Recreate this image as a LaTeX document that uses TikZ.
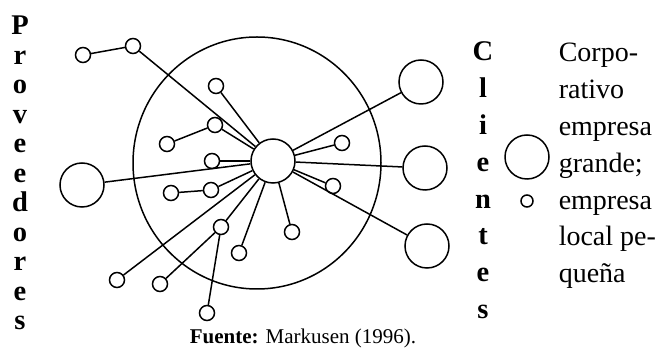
\documentclass[tikz,border=0pt]{standalone}
\usepackage{fontspec}
\setmainfont{Liberation Serif}

\begin{document}
\begin{tikzpicture}[x=1pt,y=-1pt,line width=1.5pt,
	chica/.style={draw,circle,inner sep=0pt,minimum size=15pt},
	grande/.style={draw,circle,inner sep=0pt,minimum size=44pt},
	letra/.style={font=\fontsize{28.5}{30}\selectfont\bfseries,anchor=base,inner sep=0pt}]
	\useasboundingbox (0,0) rectangle (662,352);
	\draw (257,163) ellipse [x radius=124,y radius=126];
	\path
	(273,161) node[grande] (H) {}
	(83,55) node[chica] (A) {}
	(133,46) node[chica] (B) {}
	(216,86) node[chica] (C) {}
	(215,125) node[chica] (D) {}
	(167,144) node[chica] (E) {}
	(212,161) node[chica] (F) {}
	(211,190) node[chica] (G) {}
	(171,193) node[chica] (I) {}
	(221,227) node[chica] (J) {}
	(160,284) node[chica] (K) {}
	(207,313) node[chica] (M) {}
	(117,280) node[chica] (N) {}
	(239,253) node[chica] (P) {}
	(292,232) node[chica] (Q) {}
	(342,143) node[chica] (R) {}
	(333,186) node[chica] (S) {}
	(82,185) node[grande] (L) {}
	(421,82) node[grande] (T) {}
	(425,168) node[grande] (U) {}
	(427,246) node[grande] (V) {}
	;
	\foreach \x/\y in {A/B,B/H,C/H,D/H,E/D,F/H,G/H,I/G,J/H,K/J,M/J,N/H,P/H,Q/H,R/H,S/H,L/H,T/H,U/H,V/H} \draw (\x) -- (\y);
	% columnas de letras
	\foreach \l [count=\i] in {P,r,o,v,e,e,d,o,r,e,s} \node[letra] (p\i) at (20,{35+29.5*(\i-1)}) {\l};
	\foreach \l [count=\i] in {C,l,i,e,n,t,e,s} \node[letra] (c\i) at (483,{61+36.8*(\i-1)}) {\l};
	% leyenda
	\node[grande] (lg) at (527,157) {};
	\node[chica,minimum size=12pt] (lc) at (527,201) {};
	\node[anchor=base west,align=left,inner sep=0pt,font=\fontsize{28}{36.8}\selectfont] (txt) at (558,{62+36.8*6}) {Corpo-\\rativo\\empresa\\grande;\\empresa\\local pe-\\queña};
	\node[anchor=base,inner sep=0pt,font=\fontsize{21}{24}\selectfont] (fuente) at (303,344) {\textbf{Fuente:} Markusen (1996).};
\end{tikzpicture}
\end{document}
